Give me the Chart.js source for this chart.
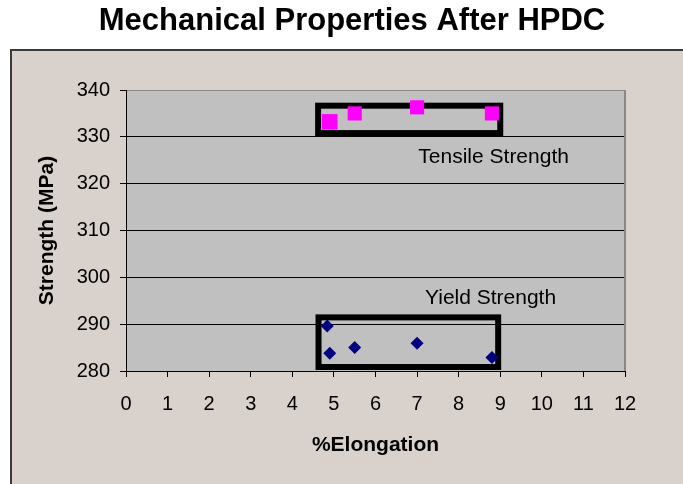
<!DOCTYPE html>
<html>
<head>
<meta charset="utf-8">
<script src="https://cdn.jsdelivr.net/npm/chart.js@4"></script>
<style>
  html, body { margin: 0; padding: 0; background: #fff; }
  #wrap { width: 683px; height: 484px; position: relative; }
</style>
</head>
<body>
<div id="wrap"><canvas id="chart"></canvas></div>
<script>
const tensileX = [4.9, 5.5, 7.0, 8.8];
const tensileY = [333.2, 335.0, 336.3, 335.0];
const yieldX = [4.84, 4.9, 5.5, 7.0, 8.8];
const yieldY = [289.6, 283.8, 285.0, 285.9, 282.9];
const xTickValues = [0, 1, 2, 3, 4, 5, 6, 7, 8, 9, 10, 11, 12];
const yTickValues = [280, 290, 300, 310, 320, 330, 340];

// boxes and labels drawn over the plot (in data units)
const noteBoxes = [
  { x0: 4.62, x1: 9.0, y0: 336.65, y1: 330.8 },
  { x0: 4.63, x1: 8.95, y0: 291.45, y1: 280.85 }
];
const noteTexts = [
  { text: 'Tensile Strength', x: 7.03, y: 325.6 },
  { text: 'Yield Strength', x: 7.19, y: 295.6 }
];

const FONT = "'Liberation Sans', Arial, sans-serif";

const excelLook = {
  id: 'excelLook',
  beforeDraw(chart) {
    const c = chart.ctx;
    const a = chart.chartArea;
    c.save();
    c.fillStyle = '#fff';
    c.fillRect(0, 0, chart.width, chart.height);
    // outer chart box
    c.fillStyle = '#d9d1cb';
    c.fillRect(11, 50, chart.width, chart.height);
    c.strokeStyle = '#3a3a3a';
    c.lineWidth = 2;
    c.beginPath();
    c.moveTo(11, chart.height + 2);
    c.lineTo(11, 50);
    c.lineTo(chart.width + 2, 50);
    c.stroke();
    // plot area
    c.fillStyle = '#c0c0c0';
    c.fillRect(a.left, a.top, a.right - a.left, a.bottom - a.top);
    c.restore();
  },
  beforeDatasetsDraw(chart) {
    const c = chart.ctx;
    const a = chart.chartArea;
    const xs = chart.scales.x, ys = chart.scales.y;
    c.save();
    c.strokeStyle = '#888';
    c.lineWidth = 2;
    c.beginPath();
    c.moveTo(a.right, a.top);
    c.lineTo(a.right, a.bottom);
    c.stroke();
    c.strokeStyle = '#000';
    c.lineWidth = 6;
    noteBoxes.forEach(b => {
      const l = xs.getPixelForValue(b.x0), r = xs.getPixelForValue(b.x1);
      const t = ys.getPixelForValue(b.y0), bt = ys.getPixelForValue(b.y1);
      c.strokeRect(l, t, r - l, bt - t);
    });
    c.fillStyle = '#000';
    c.font = '21px ' + FONT;
    c.textAlign = 'left';
    c.textBaseline = 'middle';
    noteTexts.forEach(n => {
      c.fillText(n.text, xs.getPixelForValue(n.x), ys.getPixelForValue(n.y));
    });
    c.restore();
  },
  afterDraw(chart) {
    const c = chart.ctx;
    c.save();
    c.fillStyle = '#000';
    c.font = 'bold 31px ' + FONT;
    c.textAlign = 'center';
    c.textBaseline = 'alphabetic';
    c.fillText('Mechanical Properties After HPDC', 352, 30);
    c.restore();
  }
};

new Chart(document.getElementById('chart'), {
  type: 'scatter',
  data: {
    datasets: [
      {
        label: 'Tensile Strength',
        data: tensileX.map((x, i) => ({ x: x, y: tensileY[i] })),
        pointStyle: 'rect',
        pointRadius: [11, 10, 10, 10],
        pointHoverRadius: [11, 10, 10, 10],
        backgroundColor: '#ff00ff',
        borderWidth: 0
      },
      {
        label: 'Yield Strength',
        data: yieldX.map((x, i) => ({ x: x, y: yieldY[i] })),
        pointStyle: 'rectRot',
        pointRadius: 6.5,
        pointHoverRadius: 6.5,
        backgroundColor: '#000080',
        borderWidth: 0
      }
    ]
  },
  options: {
    responsive: true,
    maintainAspectRatio: false,
    animation: false,
    events: [],
    layout: { padding: { top: 90, right: 58, left: 0, bottom: 0 } },
    plugins: {
      legend: { display: false },
      tooltip: { enabled: false },
      title: { display: false }
    },
    scales: {
      x: {
        type: 'linear',
        min: xTickValues[0],
        max: xTickValues[xTickValues.length - 1],
        afterBuildTicks: s => { s.ticks = xTickValues.map(v => ({ value: v })); },
        afterFit: s => { s.height = 113; },
        grid: { drawOnChartArea: false, color: '#000', tickLength: 6 },
        border: { color: '#000', width: 1 },
        ticks: { color: '#000', padding: 15, font: { family: FONT, size: 20 } },
        title: {
          display: true,
          text: '%Elongation',
          color: '#000',
          font: { family: FONT, size: 21, weight: 'bold' },
          padding: { top: 0, bottom: 26 }
        }
      },
      y: {
        type: 'linear',
        min: yTickValues[0],
        max: yTickValues[yTickValues.length - 1],
        afterBuildTicks: s => { s.ticks = yTickValues.map(v => ({ value: v })); },
        afterFit: s => { s.width = 126; },
        grid: {
          color: ctx => (ctx.tick && ctx.tick.value === 340) ? '#888' : '#000',
          tickColor: '#000',
          tickLength: 6
        },
        border: { color: '#000', width: 1 },
        ticks: { color: '#000', padding: 10, font: { family: FONT, size: 20 } },
        title: {
          display: true,
          text: 'Strength (MPa)',
          color: '#000',
          font: { family: FONT, size: 21, weight: 'bold' },
          padding: { top: 35, bottom: 0 }
        }
      }
    }
  },
  plugins: [excelLook]
});
</script>
</body>
</html>
